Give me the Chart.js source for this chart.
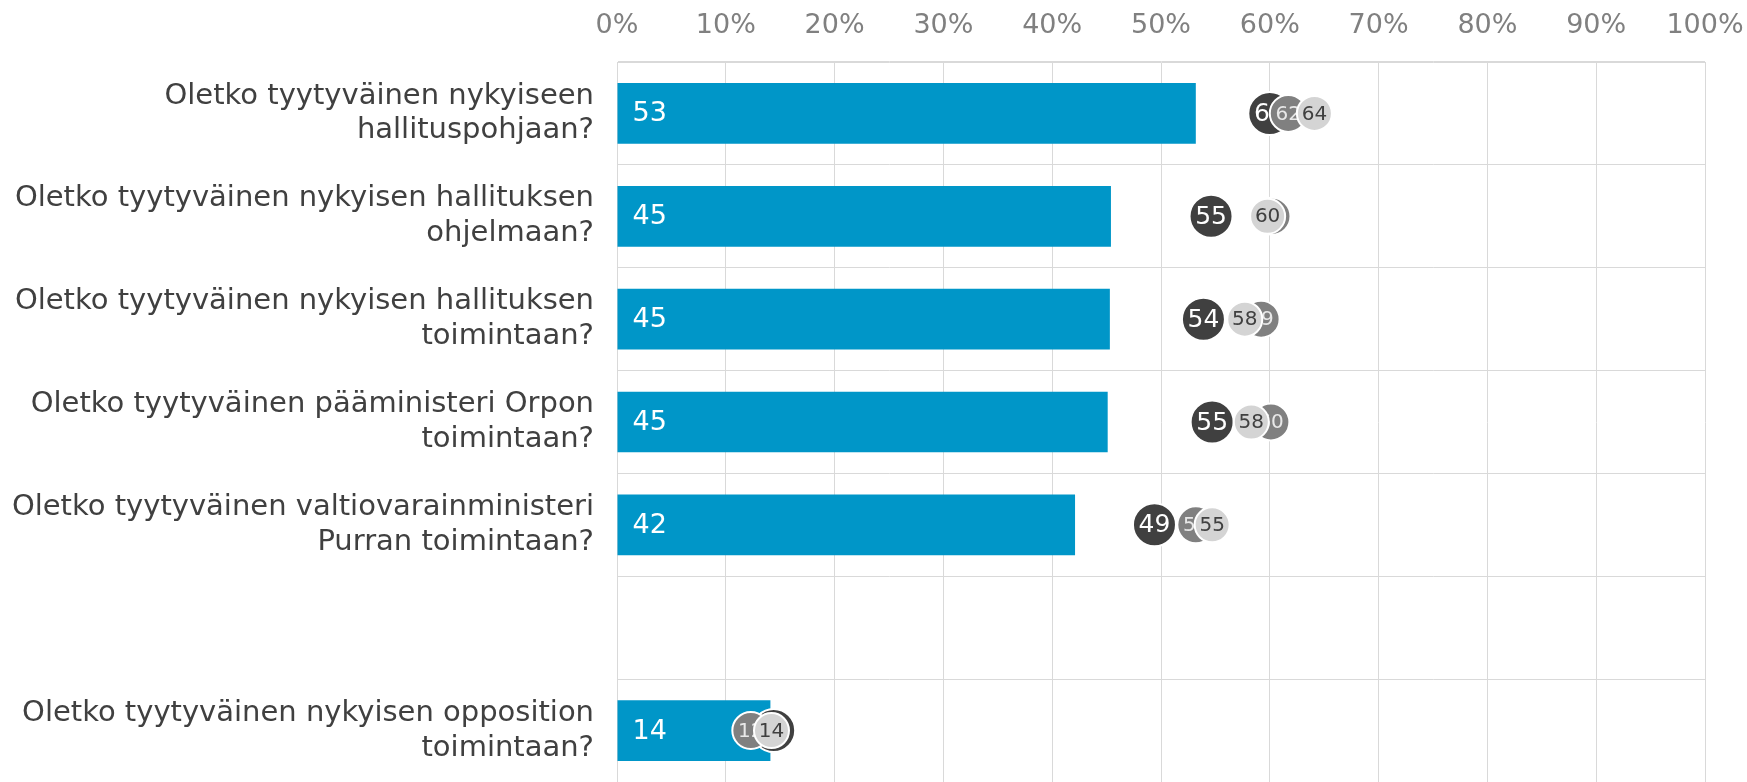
<!DOCTYPE html>
<html>
<head>
<meta charset="utf-8">
<script src="https://cdn.jsdelivr.net/npm/chart.js@4.4.1/dist/chart.umd.min.js"></script>
<style>
  body { margin: 0; background: #fff; overflow: hidden; }
  #wrap { width: 1747px; height: 782px; }
</style>
</head>
<body>
<div id="wrap"><canvas id="chart"></canvas></div>
<script>
// categories (one empty row between the groups)
var categories = [
  ['Oletko tyytyväinen nykyiseen', 'hallituspohjaan?'],
  ['Oletko tyytyväinen nykyisen hallituksen', 'ohjelmaan?'],
  ['Oletko tyytyväinen nykyisen hallituksen', 'toimintaan?'],
  ['Oletko tyytyväinen pääministeri Orpon', 'toimintaan?'],
  ['Oletko tyytyväinen valtiovarainministeri', 'Purran toimintaan?'],
  '',
  ['Oletko tyytyväinen nykyisen opposition', 'toimintaan?']
];
var barValues   = [53.2, 45.4, 45.3, 45.1, 42.1, null, 14.1];
var darkValues  = [60.0, 54.6, 53.9, 54.7, 49.4, null, 14.4];
var midValues   = [61.7, 60.2, 59.2, 60.1, 53.2, null, 12.3];
var lightValues = [64.1, 59.8, 57.7, 58.3, 54.7, null, 14.2];
var xTicks = [0, 10, 20, 30, 40, 50, 60, 70, 80, 90, 100];

var FONT = "'DejaVu Sans', Verdana, sans-serif";

// labels are drawn right after each dataset so that later circles cover them
var labelPlugin = {
  id: 'labels',
  afterDatasetDraw: function (chart, args) {
    var ctx = chart.ctx;
    var ds = chart.data.datasets[args.index];
    var meta = args.meta;
    ctx.save();
    ctx.textBaseline = 'middle';
    meta.data.forEach(function (el, i) {
      var v = ds.data[i];
      if (v === null || v === undefined) return;
      var txt = String(Math.round(v));
      if (ds.type === 'bar') {
        ctx.font = '27px ' + FONT;
        ctx.fillStyle = '#ffffff';
        ctx.textAlign = 'left';
        ctx.fillText(txt, el.base + 15, el.y + 1);
      } else {
        ctx.font = ds.labelSize + 'px ' + FONT;
        ctx.fillStyle = ds.labelColor;
        ctx.textAlign = 'center';
        ctx.fillText(txt, el.x, el.y + 1);
      }
    });
    ctx.restore();
  }
};

function dots(values, color, radius, labelColor, labelSize, order) {
  return {
    type: 'line',
    data: values,
    showLine: false,
    order: order,
    clip: false,
    pointRadius: radius,
    pointHoverRadius: radius,
    pointBackgroundColor: color,
    pointBorderColor: '#ffffff',
    pointBorderWidth: 2,
    labelColor: labelColor,
    labelSize: labelSize
  };
}

var ctx = document.getElementById('chart').getContext('2d');
var chart = new Chart(ctx, {
  type: 'bar',
  data: {
    labels: categories,
    datasets: [
      {
        type: 'bar',
        data: barValues,
        backgroundColor: '#0096c8',
        barPercentage: 0.59,
        categoryPercentage: 1,
        order: 4
      },
      dots(darkValues, '#404040', 21.5, '#ffffff', 25, 3),
      dots(midValues, '#808080', 18.5, '#e8e8e8', 20, 2),
      dots(lightValues, '#d4d4d4', 17.5, '#404040', 20, 1)
    ]
  },
  options: {
    indexAxis: 'y',
    responsive: true,
    maintainAspectRatio: false,
    animation: false,
    layout: { padding: 0, autoPadding: false },
    plugins: {
      legend: { display: false },
      tooltip: { enabled: false }
    },
    scales: {
      x: {
        position: 'top',
        min: 0,
        max: 100,
        afterBuildTicks: function (axis) {
          axis.ticks = xTicks.map(function (v) { return { value: v }; });
        },
        afterFit: function (axis) {
          axis.height = 62;
          axis.paddingLeft = 0;
          axis.paddingRight = 42;
        },
        grid: { color: '#d9d9d9', drawTicks: false },
        border: { color: '#d9d9d9' },
        ticks: {
          color: '#808080',
          font: { family: FONT, size: 27 },
          padding: 20,
          callback: function (v) { return v + '%'; }
        }
      },
      y: {
        afterFit: function (axis) {
          axis.width = 617;
          axis.paddingTop = 0;
          axis.paddingBottom = 0;
        },
        grid: { color: '#d9d9d9', drawTicks: false, offset: true },
        border: { color: '#d9d9d9' },
        ticks: {
          color: '#404040',
          font: { family: FONT, size: 29 },
          padding: 23
        }
      }
    }
  },
  plugins: [labelPlugin]
});
</script>
</body>
</html>
